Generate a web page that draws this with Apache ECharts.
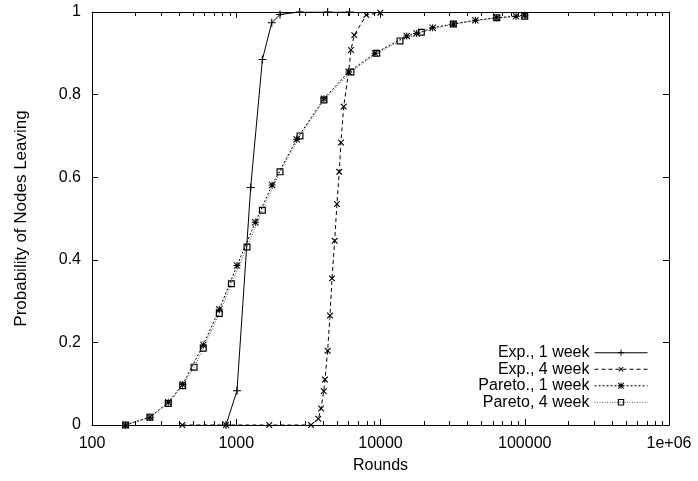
<!DOCTYPE html>
<html>
<head>
<meta charset="utf-8">
<script src="https://cdn.jsdelivr.net/npm/echarts@6/dist/echarts.min.js"></script>
<style>html,body{margin:0;padding:0;background:#fff}#c{width:698px;height:481px}</style>
</head>
<body>
<div id="c"></div>
<script>
// ---- data ----
var seriesNames = ['Exp., 1 week', 'Exp., 4 week', 'Pareto., 1 week', 'Pareto, 4 week'];
var xMajorTicks = [100, 1000, 10000, 100000, 1000000];
var xTickLabels = ['100', '1000', '10000', '100000', '1e+06'];
var yTickLabels = ['0', '0.2', '0.4', '0.6', '0.8', '1'];
var xMinorMultipliers = [2, 3, 4, 5, 6, 7, 8, 9];

var expOneWeekX = [849, 1012, 1259, 1518, 1762, 2010, 2750, 4300, 6100];
var expOneWeekY = [0, 0.083, 0.575, 0.885, 0.974, 0.994, 1.0, 1.0, 1.0];

var expFourWeekX = [423, 849, 1694, 3300, 3706, 3873, 4040, 4121, 4301, 4466, 4611, 4812, 4989, 5176, 5320, 5555, 6017, 6240, 6580, 7970, 9970];
var expFourWeekY = [0, 0, 0, 0, 0.015, 0.04, 0.082, 0.11, 0.18, 0.265, 0.355, 0.446, 0.535, 0.613, 0.684, 0.771, 0.855, 0.908, 0.944, 0.993, 0.998];

var paretoOneWeekX = [171, 252, 338, 425, 591, 763, 1012, 1355, 1770, 2624, 4053, 6020, 9160, 15200, 17800, 23000, 32000, 45500, 64000, 87000, 100000];
var paretoOneWeekY = [0, 0.019, 0.055, 0.098, 0.194, 0.28, 0.386, 0.491, 0.581, 0.692, 0.79, 0.855, 0.90, 0.942, 0.948, 0.962, 0.971, 0.98, 0.986, 0.99, 0.992];

var paretoFourWeekX = [171, 252, 338, 425, 510, 591, 763, 925, 1188, 1517, 2010, 2767, 4053, 6240, 9420, 13650, 19200, 32000, 64000, 100000];
var paretoFourWeekY = [0, 0.019, 0.052, 0.095, 0.14, 0.186, 0.27, 0.342, 0.431, 0.52, 0.613, 0.70, 0.787, 0.855, 0.90, 0.930, 0.951, 0.971, 0.986, 0.99];

// ---- helpers ----
function pairs(xs, ys) { return xs.map(function (x, i) { return [x, ys[i]]; }); }
var minorTickValues = [];
for (var d = 100; d < 1000000; d *= 10) {
  xMinorMultipliers.forEach(function (m) { minorTickValues.push(d * m); });
}
var FONT = 'Liberation Sans, Arial, Helvetica, sans-serif';
var FS = 16;
var PLUS = 'path://M3,0h1v3h3v1h-3v3h-1v-3h-3v-1h3z';
var STAR = 'path://M3,0h1v3h3v1h-3v3h-1v-3h-3v-1h3z M0,0.7L0.7,0L7,6.3L6.3,7Z M6.3,0L7,0.7L0.7,7L0,6.3Z';
var SQUARE = 'path://M0,0H6V6H0Z M1,1V5H5V1Z';
var MINOR_LEN = 4;
var TICKS_NAME = 'minorTicks';

var lbl = {};
xMajorTicks.forEach(function (v, i) { lbl[v] = xTickLabels[i]; });

function xMajor(pos, showLabel) {
  return {
    type: 'log', logBase: 10, min: 100, max: 1000000, position: pos, gridIndex: 0,
    axisLine: { show: true, onZero: false, lineStyle: { color: '#000', width: 1 } },
    axisTick: { show: true, inside: true, length: 6, lineStyle: { color: '#000' } },
    axisLabel: showLabel ? {
      show: true, color: '#000', fontFamily: FONT, fontSize: FS, lineHeight: 16, margin: 11,
      formatter: function (v) { return lbl[v] !== undefined ? lbl[v] : ''; }
    } : { show: false },
    splitLine: { show: false },
    name: showLabel ? 'Rounds' : '', nameLocation: 'middle', nameGap: 33,
    nameTextStyle: { color: '#000', fontFamily: FONT, fontSize: FS, lineHeight: 16 }
  };
}

function lineSeries(i, xs, ys, symbol, size, rotate, dash, color, z) {
  return {
    name: seriesNames[i], type: 'line', data: pairs(xs, ys),
    symbol: symbol, symbolSize: size, symbolRotate: rotate, z: z,
    lineStyle: { color: color, width: 1, type: dash }, itemStyle: { color: '#000' }
  };
}

var option = {
  animation: false,
  backgroundColor: '#fff',
  grid: { left: 92, right: 29, top: 12, bottom: 56, containLabel: false },
  xAxis: [xMajor('bottom', true), xMajor('top', false)],
  yAxis: [
    {
      type: 'value', min: 0, max: 1, interval: 0.2, position: 'left',
      axisLine: { show: true, onZero: false, lineStyle: { color: '#000' } },
      axisTick: { show: true, inside: true, length: 6, lineStyle: { color: '#000' } },
      axisLabel: { color: '#000', fontFamily: FONT, fontSize: FS, margin: 11,
        formatter: function (v) { return yTickLabels[Math.round(v / 0.2)]; } },
      splitLine: { show: false },
      name: 'Probability of Nodes Leaving', nameLocation: 'middle', nameGap: 62,
      nameTextStyle: { color: '#000', fontFamily: FONT, fontSize: 17 }
    },
    {
      type: 'value', min: 0, max: 1, interval: 0.2, position: 'right',
      axisLine: { show: true, onZero: false, lineStyle: { color: '#000' } },
      axisTick: { show: true, inside: true, length: 6, lineStyle: { color: '#000' } },
      axisLabel: { show: false }, splitLine: { show: false }
    }
  ],
  legend: {
    orient: 'vertical', right: 45, top: 339.5, align: 'right',
    itemWidth: 53, itemHeight: 8, itemGap: 0, selectedMode: false,
    lineStyle: { width: 1 },
    textStyle: { color: '#000', fontFamily: FONT, fontSize: FS, lineHeight: 16.5 },
    data: seriesNames.concat([{
      name: TICKS_NAME, icon: 'none',
      itemStyle: { opacity: 0 }, lineStyle: { opacity: 0 },
      textStyle: { color: 'rgba(0,0,0,0)', fontSize: 1, lineHeight: 1 }
    }])
  },
  series: [
    lineSeries(0, expOneWeekX, expOneWeekY, PLUS, 8, 0, 'solid', '#000', 4),
    lineSeries(1, expFourWeekX, expFourWeekY, PLUS, 8, 45, [4, 3], '#000', 4),
    lineSeries(2, paretoOneWeekX, paretoOneWeekY, STAR, 7, 0, [2, 2], '#000', 4),
    lineSeries(3, paretoFourWeekX, paretoFourWeekY, SQUARE, 7, 0, [1, 1.5], '#555', 3),
    {
      // minor log ticks on the bottom and top borders, placed through the x scale
      name: TICKS_NAME, type: 'custom', silent: true, z: 10, clip: false,
      xAxisIndex: 0, yAxisIndex: 0,
      data: minorTickValues.map(function (v) { return [v, 0]; }),
      encode: { x: 0, y: 1 },
      renderItem: function (params, api) {
        var v = api.value(0);
        var b = api.coord([v, 0]);
        var t = api.coord([v, 1]);
        var x = Math.round(b[0]) + 0.5;
        return {
          type: 'group',
          children: [
            { type: 'line', shape: { x1: x, y1: b[1], x2: x, y2: b[1] - MINOR_LEN }, style: { stroke: '#000', lineWidth: 1, fill: null } },
            { type: 'line', shape: { x1: x, y1: t[1], x2: x, y2: t[1] + MINOR_LEN }, style: { stroke: '#000', lineWidth: 1, fill: null } }
          ]
        };
      }
    }
  ]
};
var chart = echarts.init(document.getElementById('c'), null, { renderer: 'canvas' });
chart.setOption(option);
</script>
</body>
</html>
